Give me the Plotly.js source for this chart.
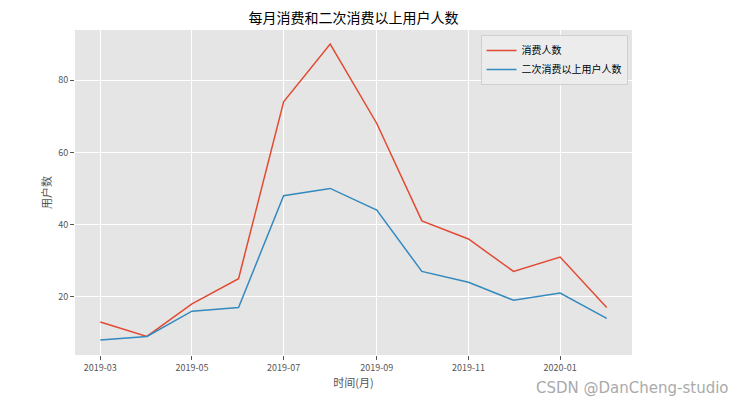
<!DOCTYPE html>
<html><head><meta charset="utf-8">
<script src="https://cdn.plot.ly/plotly-3.0.1.min.js"></script>
<style>body{margin:0;background:#fff}#c{width:744px;height:409px}</style>
</head><body><div id="c"></div>
<script>
const months = ["2019-03-01","2019-04-01","2019-05-01","2019-06-01","2019-07-01","2019-08-01","2019-09-01","2019-10-01","2019-11-01","2019-12-01","2020-01-01","2020-02-01"];
const buyers = [13, 9, 18, 25, 74, 90, 68, 41, 36, 27, 31, 17];
const repeatBuyers = [8, 9, 16, 17, 48, 50, 44, 27, 24, 19, 21, 14];
const tickVals = ["2019-03-01","2019-05-01","2019-07-01","2019-09-01","2019-11-01","2020-01-01"];
const tickText = ["2019-03","2019-05","2019-07","2019-09","2019-11","2020-01"];
const F = '"Noto Sans CJK SC", "DejaVu Sans", sans-serif';
const data = [
  {x: months, y: buyers, name: "消费人数", mode: "lines", line: {color: "#E24A33", width: 1.5}},
  {x: months, y: repeatBuyers, name: "二次消费以上用户人数", mode: "lines", line: {color: "#348ABD", width: 1.5}}
];
const layout = {
  width: 744, height: 409,
  margin: {l: 75, r: 112, t: 30, b: 54},
  paper_bgcolor: "#fff", plot_bgcolor: "#E5E5E5",
  font: {family: F, size: 10, color: "#555"},
  title: {text: "每月消费和二次消费以上用户人数", font: {family: F, size: 14, color: "#000"}, x: 0.475, xanchor: "center", y: 0.955, yanchor: "middle"},
  xaxis: {type: "date", range: ["2019-02-12 04:00", "2020-02-17 20:00"], tickvals: tickVals, ticktext: tickText,
    showgrid: true, gridcolor: "#fff", gridwidth: 1, zeroline: false, ticks: "outside", ticklen: 4, tickcolor: "#555",
    tickfont: {size: 9, color: "#555"}, showline: false,
    title: {text: "时间(月)", font: {size: 11, color: "#555"}, standoff: 4}},
  yaxis: {range: [3.85, 93.9], tickvals: [20, 40, 60, 80], showgrid: true, gridcolor: "#fff", gridwidth: 1, zeroline: false,
    ticks: "outside", ticklen: 4, tickcolor: "#555", tickfont: {size: 9, color: "#555"}, showline: false,
    title: {text: "用户数", font: {size: 11, color: "#555"}, standoff: 4}},
  legend: {x: 0.992, y: 0.985, xanchor: "right", yanchor: "top", bgcolor: "rgba(236,236,236,0.9)", bordercolor: "#d0d0d0", borderwidth: 1,
    font: {size: 10, color: "#000"}, tracegroupgap: 0, itemwidth: 30},
  showlegend: true,
  annotations: [{text: "CSDN @DanCheng-studio", xref: "paper", yref: "paper", x: 1.177, y: -0.1, xanchor: "right", yanchor: "middle",
    showarrow: false, font: {family: '"DejaVu Sans", sans-serif', size: 15, color: "#aaa"}}]
};
Plotly.newPlot("c", data, layout, {displayModeBar: false});
</script>
</body></html>
